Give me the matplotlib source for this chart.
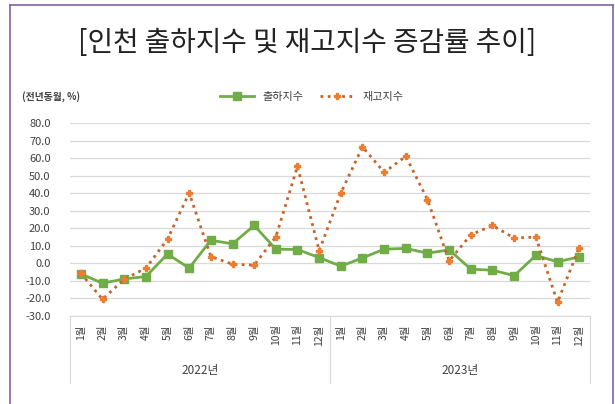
import matplotlib
matplotlib.use("Agg")
import matplotlib.pyplot as plt
import matplotlib.transforms as mtransforms
from matplotlib.lines import Line2D

plt.rcParams["font.family"] = ["Noto Sans CJK KR", "DejaVu Sans"]

# ---- data (전년동월 대비 증감률, %) ----
years = ["2022년", "2023년"]
months = [f"{m}월" for m in range(1, 13)] * 2
shipment = [-6.0, -11.3, -8.9, -7.5, 5.3, -2.7, 13.2, 11.1, 21.6, 8.1, 7.9, 3.3,
            -1.6, 3.1, 8.1, 8.5, 5.8, 7.7, -3.3, -3.9, -7.0, 4.5, 0.9, 3.7]
inventory = [-5.6, -20.5, -9.0, -2.8, 13.8, 40.1, 3.9, -0.5, -1.0, 15.1, 55.3, 7.2,
             40.1, 66.4, 51.9, 61.0, 36.3, 1.4, 16.3, 21.6, 14.4, 15.0, -22.2, 9.0]
yticks = list(range(-30, 81, 10))

W, H = 615, 404
fig = plt.figure(figsize=(W / 100, H / 100), dpi=100)
ax = fig.add_axes([70 / W, 1 - 316 / H, 520 / W, (316 - 123) / H])

x = list(range(len(months)))
ax.plot(x, shipment, color="#70AD47", lw=2, marker="s", ms=5.5,
        label="출하지수", zorder=3)
ax.plot(x, inventory, color="#C4642A", lw=2, ls=(0, (1, 1.6)),
        marker="P", ms=5, mfc="#ED7D31", mec="#ED7D31",
        label="재고지수", zorder=4)

ax.set_xlim(-0.5, len(months) - 0.5)
ax.set_ylim(-30, 80)
ax.set_yticks(yticks)
ax.set_yticklabels([f"{v:.1f}" for v in yticks], fontsize=8, color="#404040")
ax.set_xticks(x)
ax.set_xticklabels(months, rotation=90, fontsize=7.5, color="#404040")
ax.tick_params(length=0)
ax.tick_params(axis="y", pad=14)
ax.tick_params(axis="x", pad=6)
ax.grid(axis="y", color="#D9D9D9", lw=0.9)
ax.set_axisbelow(True)
for s in ["top", "left", "right"]:
    ax.spines[s].set_visible(False)
ax.spines["bottom"].set_color("#D9D9D9")

# category group boxes below the axis
trans = mtransforms.blended_transform_factory(ax.transData, ax.transAxes)
for xv in [-0.5, 11.5, 23.5]:
    ax.plot([xv, xv], [0, -0.345], color="#D9D9D9", lw=0.9,
            transform=trans, clip_on=False)
for i, yr in enumerate(years):
    ax.text(5.5 + 12 * i, -0.28, yr, transform=trans, ha="center", va="center",
            fontsize=8.5, color="#404040")

fig.text(0.5, 1 - 43 / H, "[인천 출하지수 및 재고지수 증감률 추이]",
         ha="center", va="center", fontsize=20, fontweight="light", color="#222222")
fig.text(22 / W, 1 - 97 / H, "(전년동월, %)", ha="left", va="center",
         fontsize=7, fontweight="bold", color="#404040")
fig.legend(loc="center", bbox_to_anchor=(312 / W, 1 - 97 / H), ncol=2,
           frameon=False, fontsize=8, handlelength=3, columnspacing=1.5,
           labelcolor="#404040")

# outer frame
fc = "#8064A2"
fig.add_artist(Line2D([10 / W, 10 / W], [0, 1 - 5 / H], color=fc, lw=1.2))
fig.add_artist(Line2D([613 / W, 613 / W], [0, 1 - 5 / H], color=fc, lw=1.2))
fig.add_artist(Line2D([10 / W, 613 / W], [1 - 5 / H, 1 - 5 / H], color=fc, lw=1.2))

fig.savefig("out.png", dpi=100)
